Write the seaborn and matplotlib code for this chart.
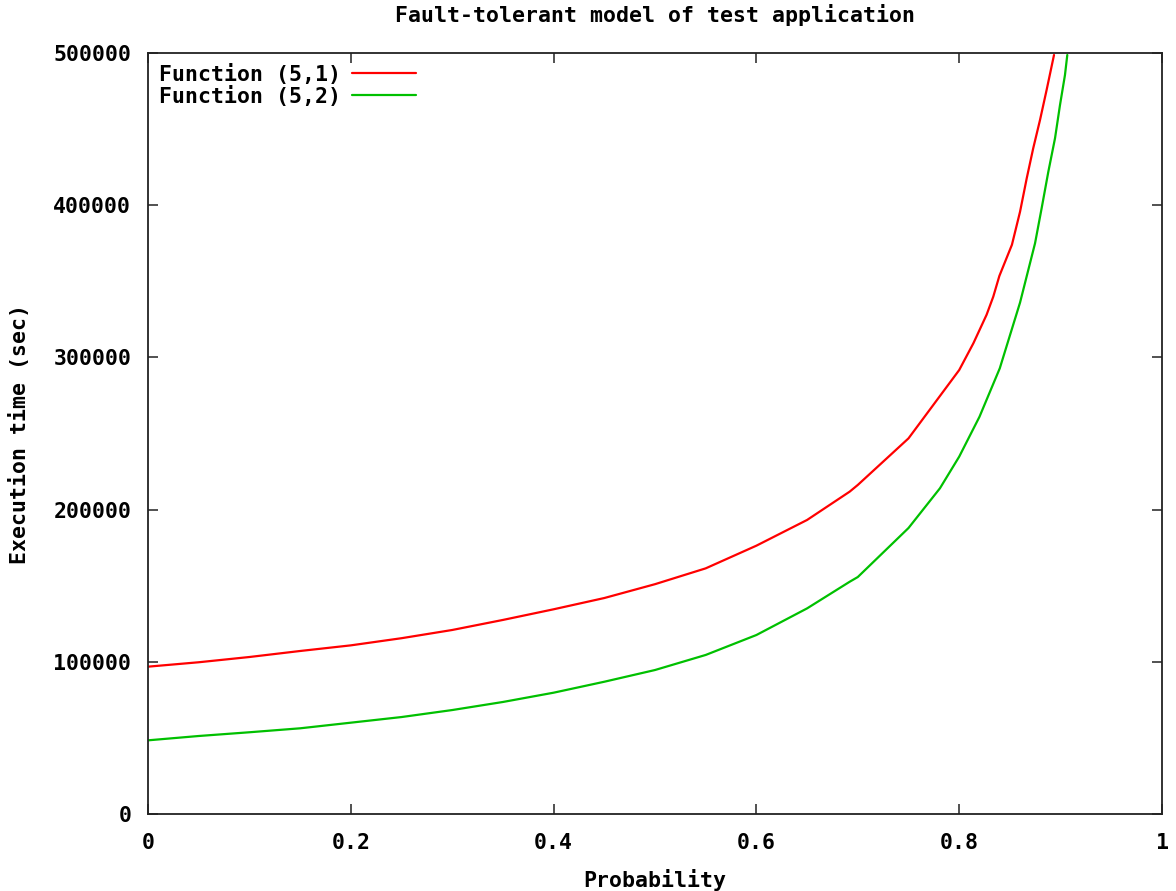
import matplotlib
matplotlib.use("Agg")
import matplotlib.pyplot as plt
import seaborn as sns
import pandas as pd

# Data
prob_red = [0.0, 0.05, 0.10, 0.15, 0.20, 0.25, 0.30, 0.35, 0.40, 0.45, 0.50,
            0.55, 0.60, 0.65, 0.692, 0.70, 0.75, 0.80, 0.814, 0.827, 0.8336,
            0.8396, 0.852, 0.860, 0.8666, 0.873, 0.8797, 0.8863, 0.8935]
time_red = [96800, 99700, 103150, 107100, 110800, 115500, 120900, 127500, 134500,
            141900, 151000, 161400, 176300, 193200, 211800, 216200, 246800,
            291700, 309300, 328000, 339900, 353500, 374000, 395700, 417700,
            437400, 456000, 476000, 498700]

prob_green = [0.0, 0.05, 0.10, 0.15, 0.20, 0.25, 0.30, 0.35, 0.40, 0.45, 0.50,
              0.55, 0.60, 0.65, 0.692, 0.70, 0.75, 0.781, 0.80, 0.82, 0.84,
              0.86, 0.8748, 0.8813, 0.8879, 0.8945, 0.8994, 0.9043, 0.9066]
time_green = [48400, 51250, 53700, 56300, 60000, 63700, 68300, 73600, 79700,
              86900, 94600, 104500, 117600, 135100, 152600, 155700, 187900,
              214000, 234800, 261000, 292800, 336000, 375000, 398000, 422000,
              444000, 465800, 485500, 498700]

labels = ["Function (5,1)", "Function (5,2)"]
x_ticks = [0, 0.2, 0.4, 0.6, 0.8, 1]
x_tick_labels = ["0", "0.2", "0.4", "0.6", "0.8", "1"]
y_ticks = [0, 100000, 200000, 300000, 400000, 500000]

df = pd.concat([
    pd.DataFrame({"Probability": prob_red, "Time": time_red, "Series": labels[0]}),
    pd.DataFrame({"Probability": prob_green, "Time": time_green, "Series": labels[1]}),
])

sns.set_theme(style="ticks")
plt.rcParams["font.family"] = ["DejaVu Sans Mono"]
plt.rcParams["font.weight"] = "bold"

FS = 15.5

fig = plt.figure(figsize=(11.76, 8.91), dpi=100)
ax = fig.add_axes([148 / 1176, 1 - 814 / 891, (1162 - 148) / 1176, (814 - 53) / 891])

sns.lineplot(data=df, x="Probability", y="Time", hue="Series",
             palette={labels[0]: "#ff0000", labels[1]: "#00c000"},
             linewidth=1.6, ax=ax, sort=False, estimator=None)

ax.set_xlim(0, 1)
ax.set_ylim(0, 500000)
ax.set_xticks(x_ticks)
ax.set_xticklabels(x_tick_labels)
ax.set_yticks(y_ticks)
ax.set_yticklabels([str(v) for v in y_ticks])
ax.tick_params(direction="in", length=7, width=1.2, top=True, right=True,
               labelsize=FS, color="#333333", labelcolor="black")
ax.tick_params(axis="x", pad=14)
ax.tick_params(axis="y", pad=12)
for lab in ax.get_xticklabels() + ax.get_yticklabels():
    lab.set_fontweight("bold")
for s in ax.spines.values():
    s.set_linewidth(1.3)
    s.set_color("#222222")

ax.set_xlabel("Probability", fontsize=FS, fontweight="bold", labelpad=11,
              color="black")
ax.set_ylabel("Execution time (sec)", fontsize=FS, fontweight="bold",
              labelpad=17, color="black")
ax.set_title("Fault-tolerant model of test application", fontsize=FS,
             fontweight="bold", pad=22, color="black")

leg = ax.legend(loc="upper left", frameon=False, markerfirst=False,
                prop={"size": FS, "weight": "bold"}, handlelength=3.0,
                borderaxespad=0.2, borderpad=0.3, labelspacing=0.05,
                handletextpad=0.5)
for t in leg.get_texts():
    t.set_color("black")

fig.savefig("out.png", dpi=100)
